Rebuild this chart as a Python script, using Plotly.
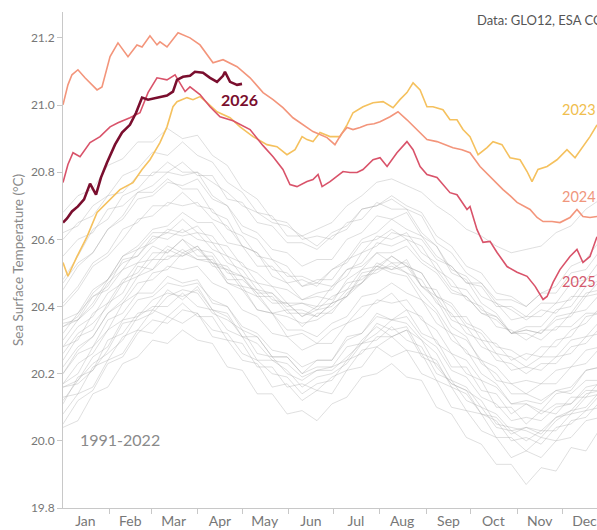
import plotly.graph_objects as go

# ---------------- data ----------------
months = ["Jan", "Feb", "Mar", "Apr", "May", "Jun", "Jul", "Aug", "Sep", "Oct", "Nov", "Dec"]
month_mid_days = [15, 45, 74, 105, 135, 166, 196, 227, 258, 288, 319, 349]
month_start_days = [31, 59, 90, 120, 151, 181, 212, 243, 273, 304, 334]
y_ticks = [19.8, 20.0, 20.2, 20.4, 20.6, 20.8, 21.0, 21.2]

gray_days = [0, 10, 20, 30, 40, 50, 60, 70, 80, 90, 100, 110, 120, 130, 140, 150, 160, 170, 180,
             190, 200, 210, 220, 230, 240, 250, 260, 270, 280, 290, 300, 310, 320, 330, 340, 350, 360]

y1991 = [20.08,20.14,20.16,20.24,20.26,20.33,20.32,20.37,20.35,20.38,20.31,20.30,20.24,20.23,20.16,20.17,20.12,20.15,20.14,20.21,20.22,20.28,20.25,20.27,20.20,20.18,20.10,20.09,20.03,20.01,19.95,19.97,19.95,20.00,20.01,20.06,20.07]
y1992 = [20.04,20.06,20.14,20.16,20.23,20.25,20.30,20.29,20.33,20.30,20.29,20.22,20.21,20.14,20.14,20.08,20.09,20.06,20.11,20.13,20.19,20.20,20.23,20.19,20.18,20.10,20.08,20.01,19.99,19.93,19.93,19.87,19.92,19.91,19.98,19.97,20.04]
y1993 = [20.13,20.14,20.22,20.24,20.31,20.33,20.39,20.37,20.41,20.37,20.37,20.30,20.29,20.22,20.22,20.16,20.17,20.15,20.19,20.21,20.27,20.28,20.31,20.27,20.26,20.18,20.16,20.09,20.08,20.01,20.01,19.97,20.01,20.00,20.06,20.07,20.12]
y1994 = [20.16,20.17,20.21,20.27,20.35,20.36,20.38,20.43,20.45,20.44,20.38,20.36,20.33,20.26,20.25,20.20,20.18,20.21,20.22,20.24,20.30,20.34,20.31,20.33,20.30,20.22,20.17,20.15,20.12,20.05,20.04,20.03,20.01,20.06,20.09,20.10,20.15]
y1995 = [20.20,20.26,20.28,20.36,20.38,20.44,20.44,20.49,20.47,20.48,20.41,20.40,20.33,20.31,20.25,20.25,20.20,20.22,20.22,20.28,20.29,20.35,20.33,20.34,20.26,20.24,20.16,20.14,20.08,20.06,20.00,20.01,19.99,20.04,20.05,20.09,20.10]
y1996 = [20.05,20.12,20.15,20.23,20.25,20.32,20.36,20.35,20.39,20.38,20.33,20.32,20.26,20.24,20.20,20.19,20.14,20.17,20.18,20.24,20.26,20.31,20.31,20.33,20.25,20.23,20.17,20.15,20.08,20.07,20.02,20.04,20.03,20.07,20.09,20.14,20.15]
y1997 = [20.17,20.20,20.28,20.33,20.41,20.44,20.50,20.51,20.56,20.54,20.54,20.48,20.48,20.44,20.44,20.40,20.41,20.40,20.46,20.49,20.56,20.58,20.62,20.61,20.60,20.54,20.52,20.47,20.47,20.42,20.42,20.40,20.44,20.46,20.52,20.54,20.60]
y1998 = [20.60,20.65,20.67,20.73,20.74,20.79,20.79,20.83,20.80,20.80,20.73,20.70,20.62,20.60,20.54,20.52,20.46,20.47,20.46,20.51,20.52,20.56,20.53,20.53,20.46,20.42,20.34,20.31,20.23,20.20,20.14,20.14,20.12,20.15,20.14,20.18,20.18]
y1999 = [20.12,20.18,20.23,20.26,20.30,20.37,20.40,20.40,20.44,20.40,20.39,20.33,20.31,20.24,20.24,20.21,20.16,20.19,20.20,20.23,20.29,20.30,20.34,20.30,20.28,20.20,20.18,20.12,20.10,20.04,20.03,20.00,20.03,20.03,20.08,20.09,20.14]
y2000 = [20.16,20.18,20.25,20.28,20.36,20.37,20.42,20.44,20.43,20.45,20.39,20.37,20.31,20.29,20.24,20.23,20.19,20.21,20.21,20.25,20.29,20.32,20.36,20.35,20.30,20.26,20.18,20.16,20.10,20.08,20.03,20.04,20.02,20.07,20.08,20.13,20.14]
y2001 = [20.22,20.28,20.31,20.38,20.41,20.47,20.48,20.52,20.51,20.52,20.47,20.45,20.39,20.37,20.32,20.31,20.27,20.29,20.29,20.35,20.37,20.42,20.41,20.42,20.36,20.33,20.26,20.24,20.18,20.16,20.11,20.12,20.11,20.15,20.16,20.21,20.22]
y2002 = [20.28,20.30,20.38,20.41,20.48,20.50,20.56,20.56,20.60,20.57,20.56,20.50,20.49,20.43,20.43,20.38,20.38,20.37,20.41,20.43,20.50,20.51,20.55,20.52,20.50,20.43,20.41,20.35,20.33,20.28,20.27,20.24,20.28,20.28,20.33,20.35,20.40]
y2003 = [20.35,20.36,20.41,20.48,20.53,20.55,20.61,20.60,20.63,20.60,20.59,20.53,20.51,20.45,20.44,20.39,20.39,20.37,20.41,20.43,20.49,20.50,20.53,20.50,20.48,20.41,20.38,20.32,20.30,20.24,20.23,20.20,20.23,20.23,20.28,20.29,20.34]
y2004 = [20.26,20.32,20.35,20.40,20.47,20.49,20.54,20.54,20.57,20.54,20.53,20.47,20.45,20.39,20.38,20.33,20.33,20.31,20.35,20.37,20.43,20.44,20.47,20.44,20.42,20.35,20.32,20.26,20.24,20.18,20.17,20.14,20.17,20.17,20.22,20.23,20.28]
y2005 = [20.36,20.38,20.45,20.48,20.55,20.57,20.62,20.62,20.66,20.62,20.61,20.55,20.53,20.47,20.46,20.41,20.41,20.39,20.43,20.45,20.51,20.52,20.55,20.52,20.50,20.43,20.40,20.34,20.32,20.26,20.25,20.22,20.25,20.25,20.30,20.31,20.36]
y2006 = [20.24,20.31,20.33,20.41,20.44,20.52,20.51,20.57,20.55,20.58,20.52,20.51,20.49,20.44,20.38,20.39,20.34,20.38,20.38,20.44,20.47,20.53,20.51,20.54,20.46,20.45,20.37,20.37,20.30,20.29,20.24,20.26,20.25,20.30,20.31,20.37,20.38]
y2007 = [20.34,20.36,20.43,20.45,20.51,20.53,20.58,20.56,20.60,20.55,20.55,20.47,20.46,20.39,20.38,20.31,20.32,20.29,20.33,20.35,20.40,20.41,20.44,20.39,20.37,20.29,20.26,20.20,20.18,20.10,20.10,20.05,20.09,20.08,20.13,20.13,20.18]
y2008 = [20.11,20.19,20.21,20.30,20.32,20.38,20.39,20.45,20.42,20.46,20.39,20.38,20.31,20.31,20.25,20.25,20.20,20.24,20.24,20.31,20.32,20.38,20.36,20.39,20.32,20.30,20.22,20.22,20.15,20.14,20.08,20.11,20.09,20.14,20.15,20.21,20.22]
y2009 = [20.20,20.27,20.31,20.38,20.42,20.49,20.51,20.55,20.55,20.57,20.53,20.52,20.46,20.45,20.41,20.41,20.37,20.40,20.41,20.48,20.51,20.56,20.56,20.58,20.53,20.50,20.44,20.43,20.38,20.37,20.32,20.34,20.34,20.39,20.40,20.46,20.48]
y2010 = [20.55,20.60,20.62,20.69,20.70,20.74,20.74,20.78,20.75,20.75,20.68,20.66,20.58,20.56,20.49,20.47,20.42,20.43,20.42,20.47,20.48,20.52,20.50,20.49,20.42,20.38,20.30,20.27,20.20,20.17,20.11,20.11,20.08,20.11,20.11,20.15,20.15]
y2011 = [20.17,20.23,20.26,20.33,20.36,20.42,20.43,20.47,20.46,20.47,20.42,20.40,20.34,20.32,20.27,20.26,20.22,20.24,20.24,20.30,20.32,20.37,20.36,20.37,20.31,20.28,20.21,20.19,20.13,20.11,20.06,20.07,20.06,20.10,20.11,20.16,20.17]
y2012 = [20.28,20.34,20.37,20.44,20.47,20.53,20.54,20.58,20.56,20.58,20.53,20.51,20.45,20.43,20.38,20.37,20.35,20.36,20.39,20.43,20.47,20.51,20.52,20.50,20.44,20.39,20.32,20.30,20.24,20.22,20.17,20.18,20.17,20.21,20.22,20.27,20.28]
y2013 = [20.32,20.38,20.43,20.46,20.54,20.55,20.60,20.62,20.61,20.62,20.57,20.55,20.49,20.47,20.42,20.41,20.37,20.39,20.40,20.45,20.47,20.52,20.51,20.52,20.46,20.43,20.36,20.34,20.28,20.26,20.21,20.22,20.21,20.25,20.26,20.31,20.32]
y2014 = [20.34,20.37,20.44,20.48,20.55,20.58,20.63,20.64,20.68,20.65,20.65,20.59,20.58,20.52,20.52,20.47,20.48,20.46,20.51,20.54,20.60,20.62,20.66,20.63,20.61,20.55,20.52,20.47,20.46,20.40,20.40,20.37,20.41,20.41,20.47,20.48,20.54]
y2015 = [20.45,20.52,20.56,20.63,20.67,20.74,20.76,20.80,20.79,20.80,20.77,20.74,20.70,20.68,20.65,20.64,20.61,20.63,20.65,20.70,20.73,20.77,20.78,20.76,20.74,20.70,20.67,20.63,20.61,20.58,20.56,20.57,20.58,20.62,20.64,20.69,20.72]
y2016 = [20.68,20.73,20.75,20.82,20.84,20.89,20.89,20.93,20.90,20.91,20.85,20.82,20.75,20.72,20.66,20.65,20.60,20.61,20.60,20.65,20.66,20.71,20.69,20.69,20.62,20.58,20.50,20.48,20.41,20.38,20.32,20.32,20.30,20.34,20.34,20.38,20.38]
y2017 = [20.41,20.46,20.53,20.56,20.63,20.65,20.70,20.70,20.74,20.70,20.69,20.63,20.61,20.55,20.54,20.49,20.49,20.47,20.51,20.53,20.59,20.60,20.63,20.60,20.58,20.51,20.48,20.42,20.40,20.34,20.33,20.30,20.33,20.33,20.38,20.39,20.44]
y2018 = [20.30,20.36,20.40,20.47,20.51,20.57,20.59,20.63,20.62,20.64,20.59,20.58,20.52,20.50,20.46,20.45,20.42,20.44,20.45,20.51,20.53,20.59,20.58,20.60,20.54,20.51,20.45,20.43,20.38,20.36,20.32,20.33,20.32,20.37,20.38,20.44,20.45]
y2019 = [20.48,20.55,20.63,20.66,20.73,20.75,20.80,20.80,20.83,20.79,20.79,20.72,20.71,20.65,20.64,20.59,20.59,20.57,20.61,20.63,20.69,20.70,20.73,20.70,20.68,20.61,20.58,20.52,20.50,20.44,20.43,20.40,20.44,20.44,20.50,20.51,20.57]
y2020 = [20.62,20.64,20.70,20.73,20.79,20.81,20.86,20.85,20.89,20.85,20.83,20.77,20.74,20.68,20.67,20.61,20.61,20.58,20.62,20.64,20.69,20.70,20.72,20.69,20.67,20.59,20.56,20.50,20.47,20.41,20.39,20.36,20.39,20.38,20.43,20.43,20.48]
y2021 = [20.40,20.45,20.52,20.55,20.60,20.66,20.67,20.71,20.70,20.71,20.66,20.64,20.58,20.56,20.51,20.50,20.46,20.48,20.48,20.54,20.56,20.61,20.60,20.62,20.56,20.53,20.46,20.45,20.39,20.37,20.32,20.33,20.32,20.36,20.37,20.43,20.44]
y2022 = [20.47,20.53,20.56,20.63,20.66,20.72,20.73,20.77,20.76,20.78,20.72,20.70,20.64,20.62,20.57,20.56,20.52,20.54,20.54,20.60,20.62,20.67,20.66,20.68,20.61,20.58,20.51,20.49,20.43,20.41,20.36,20.37,20.37,20.41,20.42,20.48,20.50]

gray_years = [y1991, y1992, y1993, y1994, y1995, y1996, y1997, y1998, y1999, y2000, y2001,
              y2002, y2003, y2004, y2005, y2006, y2007, y2008, y2009, y2010, y2011, y2012,
              y2013, y2014, y2015, y2016, y2017, y2018, y2019, y2020, y2021, y2022]

days_2023 = [0,3.3,9.4,16.1,22.8,31.5,38.1,46.8,52.9,58.2,64.9,69.6,73.6,76.3,83,87,91.7,96.4,103.1,111.8,118.5,127.2,136.5,143.2,149.9,155.3,160,163.3,167.3,172,178.7,185.4,190.1,194.1,200.8,207.5,214.2,220.9,225.5,230.2,234.3,239,243.6,247.6,254.3,259,263.7,267.7,272.4,277.8,283.8,287.8,293.8,299.2,305.9,310.6,313.9,317.9,324,330.6,337.3,342.7,348,352.7,357.4]
vals_2023 = [20.531,20.490,20.549,20.608,20.680,20.719,20.748,20.769,20.808,20.837,20.888,20.935,20.995,21.010,21.022,21.016,21.025,21.007,20.980,20.962,20.935,20.906,20.882,20.876,20.852,20.867,20.906,20.897,20.891,20.918,20.906,20.906,20.941,20.977,20.995,21.007,21.010,20.992,21.016,21.037,21.066,21.045,20.995,20.995,20.986,20.956,20.956,20.927,20.906,20.852,20.873,20.891,20.882,20.843,20.837,20.802,20.772,20.808,20.817,20.837,20.867,20.843,20.876,20.906,20.941]

days_2024 = [0,3.3,6,10,14.7,19.4,22.8,26.1,31.5,36.8,41.5,43.5,49.5,52.9,58.2,62.9,64.9,69.6,77,85,91.7,100.4,107.1,116.5,125.2,133.9,140.6,147.2,153.9,160.6,167.3,172,176.7,182,186.1,190.1,194.1,198.8,203.5,208.2,212.2,218.9,224.2,230.2,236.9,243.6,250.3,255.7,261,267,272.4,279.1,285.8,290.5,294.5,299.2,303.9,312.6,317.3,321.3,327.3,332.6,339.3,344,348,352.7,357.4]
vals_2024 = [21.001,21.060,21.090,21.105,21.081,21.060,21.045,21.054,21.144,21.185,21.155,21.144,21.179,21.173,21.206,21.179,21.188,21.173,21.215,21.200,21.179,21.126,21.135,21.114,21.081,21.037,21.016,20.992,20.962,20.941,20.921,20.912,20.903,20.882,20.912,20.933,20.927,20.933,20.941,20.944,20.950,20.965,20.980,20.956,20.927,20.897,20.891,20.882,20.873,20.867,20.858,20.817,20.787,20.763,20.748,20.730,20.710,20.689,20.665,20.653,20.653,20.650,20.665,20.689,20.668,20.665,20.668]

days_2025 = [0,3.3,6.7,11.4,18.1,24.8,31.5,36.8,44.8,51.5,56.9,62.9,69.6,75,81.7,85,91.7,98.4,105.1,113.8,125.2,133.9,140.6,147.2,151.9,156.6,163.3,167.3,170.7,173.4,178.7,183.4,187.4,192.1,196.8,200.8,207.5,212.2,216.9,223.5,230.2,234.3,239,243.6,250.3,259,263.7,270.4,272.4,277.1,281.1,285.8,290.5,297.2,303.9,310.6,316,321.3,324,328,332.6,339.3,344,348,352.7,357.4]
vals_2025 = [20.769,20.823,20.858,20.846,20.888,20.906,20.935,20.947,20.962,20.977,21.037,21.081,21.075,21.090,21.040,21.054,21.031,20.995,20.965,20.953,20.927,20.879,20.846,20.808,20.763,20.757,20.772,20.778,20.793,20.757,20.772,20.787,20.802,20.799,20.799,20.808,20.837,20.843,20.817,20.858,20.891,20.867,20.817,20.793,20.784,20.739,20.733,20.689,20.698,20.629,20.591,20.594,20.561,20.519,20.502,20.490,20.460,20.421,20.430,20.472,20.510,20.549,20.570,20.531,20.549,20.608]

days_2026 = [0,2.7,6,10,14.1,18.1,22.1,25.4,29.4,34.8,39.5,44.8,48.9,52.9,56.9,62.9,69.6,73.6,76.3,80.3,85,88.3,93.7,98.4,103.1,107.1,108.4,111.8,116.5,119.8]
vals_2026 = [20.650,20.662,20.683,20.698,20.719,20.766,20.733,20.784,20.828,20.882,20.918,20.941,20.977,21.022,21.016,21.022,21.028,21.040,21.075,21.084,21.087,21.099,21.096,21.081,21.069,21.087,21.099,21.069,21.060,21.063]

# ---------------- figure ----------------
FONT = "Lato, 'Open Sans', sans-serif"
fig = go.Figure()

for ys in gray_years:
    fig.add_trace(go.Scatter(x=gray_days, y=ys, mode="lines",
                             line=dict(color="rgba(165,165,165,0.36)", width=1),
                             hoverinfo="skip", showlegend=False))

fig.add_trace(go.Scatter(x=days_2023, y=vals_2023, mode="lines",
                         line=dict(color="#F5C15E", width=1.6), showlegend=False))
fig.add_trace(go.Scatter(x=days_2024, y=vals_2024, mode="lines",
                         line=dict(color="#F3957B", width=1.6), showlegend=False))
fig.add_trace(go.Scatter(x=days_2025, y=vals_2025, mode="lines",
                         line=dict(color="#D9536A", width=1.6), showlegend=False))
fig.add_trace(go.Scatter(x=days_2026, y=vals_2026, mode="lines",
                         line=dict(color="#7A0E2E", width=2.6), showlegend=False))

annotations = [
    dict(x=117.8, y=21.016, text="<b>2026</b>", showarrow=False, xanchor="center", yanchor="middle",
         font=dict(family=FONT, size=16, color="#7A0E2E")),
    dict(x=332.8, y=20.986, text="2023", showarrow=False, xanchor="left", yanchor="middle",
         font=dict(family=FONT, size=14.5, color="#F0BE4E")),
    dict(x=332.8, y=20.727, text="2024", showarrow=False, xanchor="left", yanchor="middle",
         font=dict(family=FONT, size=14.5, color="#F0967C")),
    dict(x=332.8, y=20.475, text="2025", showarrow=False, xanchor="left", yanchor="middle",
         font=dict(family=FONT, size=14.5, color="#D45A6E")),
    dict(x=10, y=20.005, text="1991-2022", showarrow=False, xanchor="left", yanchor="middle",
         font=dict(family=FONT, size=16, color="#8a8a8a")),
    dict(xref="paper", yref="paper", x=0.7715, y=0.984, text="Data: GLO12, ESA CCI",
         showarrow=False, xanchor="left", yanchor="middle",
         font=dict(family=FONT, size=13, color="#555555")),
    dict(xref="paper", yref="paper", x=-0.0843, y=0.5, text="Sea Surface Temperature (°C)",
         textangle=-90, showarrow=False, xanchor="center", yanchor="middle",
         font=dict(family=FONT, size=13.5, color="#8a8a8a")),
]

fig.update_layout(
    width=597, height=530,
    margin=dict(l=63, r=0, t=12, b=22, pad=0),
    paper_bgcolor="white", plot_bgcolor="white",
    showlegend=False,
    font=dict(family=FONT, color="#777777"),
    annotations=annotations,
    xaxis=dict(range=[0, 357.4], showline=True, linecolor="#c8c8c8", linewidth=1,
               showgrid=False, zeroline=False,
               tickmode="array", tickvals=month_mid_days, ticktext=months, ticks="",
               ticklabeloverflow="allow",
               tickfont=dict(family=FONT, size=14, color="#777777"),
               minor=dict(tickmode="array", tickvals=month_start_days, ticks="outside",
                          ticklen=5, tickcolor="#c8c8c8", showgrid=False)),
    yaxis=dict(range=[19.8, 21.277], showline=True, linecolor="#c8c8c8", linewidth=1,
               showgrid=False, zeroline=False,
               tickmode="array", tickvals=y_ticks, tickformat=".1f",
               ticks="outside", ticklen=5, tickcolor="#c8c8c8",
               tickfont=dict(family=FONT, size=12, color="#777777")),
)

fig.write_html("out.html")
